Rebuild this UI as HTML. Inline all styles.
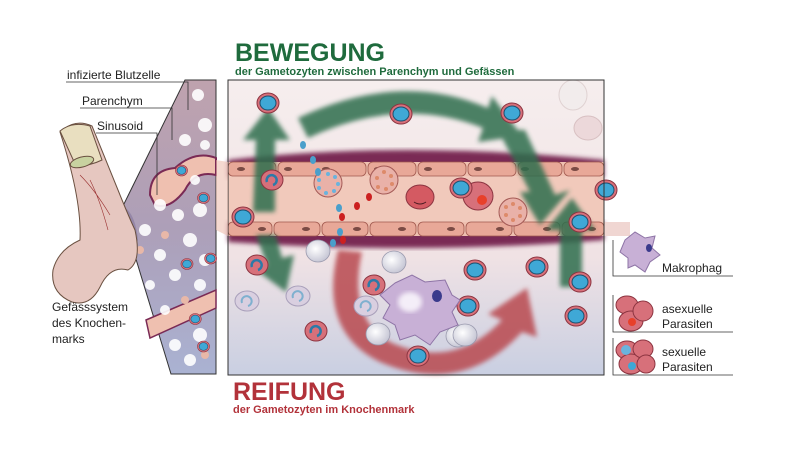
<!DOCTYPE html>
<html><head><meta charset="utf-8"><style>
html,body{margin:0;padding:0;background:#fff}
svg{display:block}
text{font-family:"Liberation Sans",Arial,sans-serif}
</style></head><body>
<svg width="800" height="474" viewBox="0 0 800 474" xmlns="http://www.w3.org/2000/svg">
<defs>
<linearGradient id="bg" x1="0" y1="0" x2="0" y2="1">
<stop offset="0" stop-color="#f6eeee"/><stop offset="0.6" stop-color="#f0e2e4"/><stop offset="1" stop-color="#c9cfe2"/></linearGradient>
<linearGradient id="pl" x1="0" y1="0" x2="0" y2="1">
<stop offset="0" stop-color="#bfa2ae"/><stop offset="0.5" stop-color="#ad9fb8"/><stop offset="1" stop-color="#aab2d2"/></linearGradient>
<radialGradient id="wc" cx="0.4" cy="0.4" r="0.6"><stop offset="0" stop-color="#fff"/><stop offset="1" stop-color="#c8c8d6"/></radialGradient>
<filter id="bl"><feGaussianBlur stdDeviation="2.5"/></filter>
<g id="rbc"><ellipse rx="11" ry="10" fill="#d7707a" stroke="#8c3440" stroke-width="1"/><ellipse rx="8" ry="7" fill="#3fa8d6" stroke="#1d4f6e" stroke-width="1"/></g>
<g id="rbr"><ellipse rx="11" ry="10" fill="#d7707a" stroke="#8c3440"/><path d="M-5 2 a5 5 0 1 1 6 3" fill="none" stroke="#2c7aa8" stroke-width="2.5"/></g>
<g id="pale"><ellipse rx="12" ry="10" fill="#d9cfe0" stroke="#a9a0bb"/><path d="M-5 2 a5 5 0 1 1 6 3" fill="none" stroke="#7fb0cf" stroke-width="2"/></g>
<g id="wb"><ellipse rx="12" ry="11" fill="url(#wc)" stroke="#9a9aae" stroke-width="0.8"/></g>
</defs>

<text x="235" y="61" font-size="25" font-weight="bold" fill="#1f6b3d">BEWEGUNG</text>
<text x="235" y="75" font-size="11" font-weight="bold" fill="#1f6b3d">der Gametozyten zwischen Parenchym und Gefässen</text>
<text x="233" y="400" font-size="25" font-weight="bold" fill="#b2323a">REIFUNG</text>
<text x="233" y="413" font-size="11" font-weight="bold" fill="#b2323a">der Gametozyten im Knochenmark</text>

<rect x="228" y="80" width="376" height="295" fill="url(#bg)"/>
<path d="M228 160 Q400 140 604 160 L604 178 L228 178Z" fill="#7a2a55" filter="url(#bl)"/>
<path d="M228 222 L604 222 L604 240 Q420 255 228 242Z" fill="#7a2a55" filter="url(#bl)"/>
<rect x="228" y="162" width="376" height="74" fill="#efc0b0"/>
<rect x="228" y="176" width="376" height="46" fill="#f1c9bb"/>
<g fill="#e8a898" stroke="#a0584e" stroke-width="0.8">
<rect x="228" y="162" width="48" height="14" rx="5"/><rect x="278" y="162" width="88" height="14" rx="5"/><rect x="368" y="162" width="48" height="14" rx="5"/><rect x="418" y="162" width="48" height="14" rx="5"/><rect x="468" y="162" width="48" height="14" rx="5"/><rect x="518" y="162" width="44" height="14" rx="5"/><rect x="564" y="162" width="40" height="14" rx="5"/>
<rect x="228" y="222" width="44" height="14" rx="5"/><rect x="274" y="222" width="46" height="14" rx="5"/><rect x="322" y="222" width="46" height="14" rx="5"/><rect x="370" y="222" width="46" height="14" rx="5"/><rect x="418" y="222" width="46" height="14" rx="5"/><rect x="466" y="222" width="46" height="14" rx="5"/><rect x="514" y="222" width="46" height="14" rx="5"/><rect x="562" y="222" width="42" height="14" rx="5"/>
</g>
<g fill="#7a4a44"><ellipse cx="241" cy="169" rx="4" ry="2"/><ellipse cx="288" cy="169" rx="4" ry="2"/><ellipse cx="326" cy="169" rx="4" ry="2"/><ellipse cx="378" cy="169" rx="4" ry="2"/><ellipse cx="428" cy="169" rx="4" ry="2"/><ellipse cx="478" cy="169" rx="4" ry="2"/><ellipse cx="525" cy="169" rx="4" ry="2"/><ellipse cx="575" cy="169" rx="4" ry="2"/>
<ellipse cx="262" cy="229" rx="4" ry="2"/><ellipse cx="306" cy="229" rx="4" ry="2"/><ellipse cx="357" cy="229" rx="4" ry="2"/><ellipse cx="402" cy="229" rx="4" ry="2"/><ellipse cx="451" cy="229" rx="4" ry="2"/><ellipse cx="500" cy="229" rx="4" ry="2"/><ellipse cx="547" cy="229" rx="4" ry="2"/><ellipse cx="592" cy="229" rx="4" ry="2"/></g>
<rect x="604" y="222" width="26" height="14" fill="#f0d6d2"/>
<ellipse cx="573" cy="95" rx="14" ry="15" fill="#f2ecec" stroke="#e0d2d2"/>
<ellipse cx="588" cy="128" rx="14" ry="12" fill="#ecd8da" stroke="#d8c0c2"/>
<g fill="#2d6e4e" opacity="0.85" filter="url(#bl)">
<path d="M298 118 Q400 70 488 108 L492 96 L522 136 L478 142 L483 128 Q400 95 308 138Z"/>
<path d="M498 130 L525 130 L555 195 L570 190 L540 225 L520 192 L530 192Z"/>
<path d="M253 212 L275 212 L275 140 L290 140 L268 108 L243 140 L256 140Z"/>
<path d="M256 235 L276 235 L282 258 L294 255 L286 292 L256 270 L267 265Z"/>
<path d="M560 287 L582 287 L582 230 L595 230 L572 198 L546 230 L560 230Z"/>
</g>
<path d="M338 250 Q318 332 380 362 Q462 397 522 332 L537 337 L527 288 L488 314 L502 320 Q455 370 392 343 Q347 320 362 252Z" fill="#b94a50" opacity="0.85" filter="url(#bl)"/>
<circle cx="328" cy="183" r="14" fill="#e9b1a8" stroke="#a45a56"/>
<g fill="#6ab3dd"><circle cx="328" cy="174" r="2"/><circle cx="335" cy="177" r="2"/><circle cx="338" cy="184" r="2"/><circle cx="334" cy="191" r="2"/><circle cx="326" cy="193" r="2"/><circle cx="319" cy="188" r="2"/><circle cx="319" cy="180" r="2"/></g>
<circle cx="384" cy="180" r="14" fill="#e9b1a8" stroke="#a45a56"/>
<g fill="#dd8a6a"><circle cx="384" cy="172" r="2"/><circle cx="391" cy="176" r="2"/><circle cx="392" cy="184" r="2"/><circle cx="386" cy="189" r="2"/><circle cx="378" cy="187" r="2"/><circle cx="377" cy="178" r="2"/></g>
<circle cx="513" cy="212" r="14" fill="#e9b1a8" stroke="#a45a56"/>
<g fill="#dd8a6a"><circle cx="513" cy="204" r="2"/><circle cx="520" cy="208" r="2"/><circle cx="520" cy="216" r="2"/><circle cx="513" cy="220" r="2"/><circle cx="506" cy="215" r="2"/><circle cx="506" cy="207" r="2"/></g>
<ellipse cx="420" cy="197" rx="14" ry="12" fill="#d45a62" stroke="#8c3440"/><path d="M414 202 q6 4 12 0" stroke="#4a1a20" fill="none"/>
<ellipse cx="478" cy="196" rx="15" ry="14" fill="#d7707a" stroke="#8c3440"/><circle cx="482" cy="200" r="5" fill="#e8402a"/>
<use href="#rbc" x="461" y="188"/>
<use href="#rbr" x="272" y="180"/>
<use href="#rbc" x="606" y="190"/>
<g fill="#4a9fcb"><ellipse cx="303" cy="145" rx="3" ry="4"/><ellipse cx="313" cy="160" rx="3" ry="4"/><ellipse cx="318" cy="172" rx="3" ry="4"/><ellipse cx="339" cy="208" rx="3" ry="4"/><ellipse cx="340" cy="232" rx="3" ry="4"/><ellipse cx="333" cy="243" rx="3" ry="4"/></g>
<g fill="#cc2020"><ellipse cx="369" cy="197" rx="3" ry="4"/><ellipse cx="357" cy="206" rx="3" ry="4"/><ellipse cx="342" cy="217" rx="3" ry="4"/><ellipse cx="343" cy="240" rx="3" ry="4"/></g>
<use href="#rbc" x="268" y="103"/>
<use href="#rbc" x="401" y="114"/>
<use href="#rbc" x="512" y="113"/>
<use href="#rbc" x="243" y="217"/>
<use href="#rbc" x="580" y="222"/>
<use href="#rbc" x="475" y="270"/>
<use href="#rbc" x="537" y="267"/>
<use href="#rbc" x="580" y="282"/>
<use href="#rbc" x="576" y="316"/>
<use href="#rbc" x="468" y="306"/>
<use href="#rbc" x="418" y="356"/>
<use href="#rbr" x="257" y="265"/>
<use href="#rbr" x="374" y="285"/>
<use href="#rbr" x="316" y="331"/>
<use href="#pale" x="247" y="301"/>
<use href="#pale" x="298" y="296"/>
<use href="#pale" x="366" y="306"/>
<use href="#wb" x="318" y="251"/>
<use href="#wb" x="394" y="262"/>
<use href="#wb" x="378" y="334"/>
<use href="#wb" x="458" y="336"/>
<use href="#wb" x="465" y="335"/>
<path d="M395 283 L412 275 L425 282 L445 280 L452 295 L460 300 L452 312 L458 325 L440 332 L430 345 L415 335 L400 340 L395 325 L383 318 L390 305 L380 295Z" fill="#c8b0d6" stroke="#8e74a6"/>
<ellipse cx="410" cy="302" rx="12" ry="10" fill="#f4eef8" filter="url(#bl)"/>
<ellipse cx="437" cy="296" rx="5" ry="6" fill="#3a3a8c"/>
<rect x="228" y="80" width="376" height="295" fill="none" stroke="#333" stroke-width="1"/>

<polygon points="185,80 216,80 216,374 171,374 121,210" fill="url(#pl)" stroke="#333" stroke-width="1"/>
<path d="M150 195 Q150 170 175 168 Q195 150 216 158 L216 175 Q195 170 185 190 Q170 210 155 205Z" fill="#efc0b0" stroke="#7a2a55" stroke-width="2"/>
<path d="M146 320 L216 290 L216 308 L150 338Z" fill="#efc0b0" stroke="#7a2a55" stroke-width="1.5"/>
<g fill="#fff" opacity="0.9">
<circle cx="198" cy="95" r="6"/><circle cx="205" cy="125" r="7"/><circle cx="185" cy="140" r="6"/><circle cx="160" cy="205" r="6"/><circle cx="178" cy="215" r="6"/><circle cx="200" cy="210" r="7"/><circle cx="145" cy="230" r="6"/><circle cx="190" cy="240" r="7"/><circle cx="160" cy="255" r="6"/><circle cx="205" cy="260" r="6"/><circle cx="175" cy="275" r="6"/><circle cx="150" cy="285" r="5"/><circle cx="200" cy="285" r="6"/><circle cx="175" cy="345" r="6"/><circle cx="200" cy="335" r="7"/><circle cx="190" cy="360" r="6"/><circle cx="165" cy="310" r="5"/><circle cx="195" cy="180" r="5"/><circle cx="205" cy="145" r="5"/>
</g>
<g fill="#e8b8a8"><circle cx="165" cy="235" r="4"/><circle cx="140" cy="250" r="4"/><circle cx="185" cy="300" r="4"/><circle cx="205" cy="355" r="4"/></g>
<g transform="scale(0.55)"><use href="#rbc" x="370" y="360"/><use href="#rbc" x="340" y="480"/><use href="#rbc" x="330" y="310"/><use href="#rbc" x="383" y="470"/><use href="#rbc" x="355" y="580"/><use href="#rbc" x="370" y="630"/></g>
<path d="M120 205 Q135 210 138 240 Q130 255 124 225Z" fill="#8a7ca0" opacity="0.7"/>
<path d="M216 160 L228 162 L228 236 L216 230Z" fill="#efc0b0" opacity="0.6"/>

<path d="M60 132 Q75 118 92 126 L118 190 Q128 215 135 230 Q142 262 128 270 Q110 265 100 287 Q90 307 72 302 Q50 293 53 270 Q58 250 80 240 Q82 200 60 132Z" fill="#e6c7c0" stroke="#6a5040" stroke-width="1"/>
<path d="M60 131 Q72 121 90 126 L102 160 Q90 166 76 166Z" fill="#e9dfc0" stroke="#6a5040"/>
<ellipse cx="82" cy="162" rx="12" ry="5" fill="#c8d2a0" stroke="#6a5040" transform="rotate(-15 82 162)"/>
<path d="M80 175 Q95 190 110 215 M90 180 Q100 200 108 230" stroke="#9a3030" fill="none" stroke-width="0.6"/>

<g font-size="12" fill="#222">
<text x="67" y="79">infizierte Blutzelle</text>
<text x="82" y="105">Parenchym</text>
<text x="97" y="130">Sinusoid</text>
<text x="52" y="311">Gefässsystem</text>
<text x="52" y="327">des Knochen-</text>
<text x="52" y="343">marks</text>
</g>
<g stroke="#333" fill="none" stroke-width="0.8">
<path d="M66 82 L188 82 L188 110"/>
<path d="M80 108 L172 108 L172 140"/>
<path d="M96 133 L157 133 L157 195"/>
</g>

<g stroke="#333" fill="none" stroke-width="0.8">
<path d="M613 240 L613 276 L733 276"/>
<path d="M613 295 L613 332 L733 332"/>
<path d="M613 338 L613 375 L733 375"/>
</g>
<path d="M625 240 L635 232 L645 238 L655 236 L652 248 L660 255 L650 262 L645 272 L635 265 L628 268 L628 258 L620 252Z" fill="#c8b0d6" stroke="#8e74a6"/>
<ellipse cx="649" cy="248" rx="3" ry="4" fill="#3a3a8c"/>
<g stroke="#8c3440" fill="#d7707a">
<ellipse cx="627" cy="305" rx="11" ry="9"/><ellipse cx="631" cy="321" rx="12" ry="10"/><ellipse cx="643" cy="311" rx="10" ry="10"/>
<ellipse cx="627" cy="350" rx="11" ry="9"/><ellipse cx="631" cy="364" rx="12" ry="10"/><ellipse cx="643" cy="349" rx="10" ry="9"/><ellipse cx="646" cy="364" rx="9" ry="9"/>
</g>
<circle cx="632" cy="322" r="4" fill="#e8402a"/>
<circle cx="626" cy="350" r="5" fill="#6ab3dd"/><circle cx="632" cy="366" r="4" fill="#3fa8d6"/>
<g font-size="12" fill="#222">
<text x="662" y="272">Makrophag</text>
<text x="662" y="313">asexuelle</text><text x="662" y="328">Parasiten</text>
<text x="662" y="356">sexuelle</text><text x="662" y="371">Parasiten</text>
</g>
</svg>
</body></html>
